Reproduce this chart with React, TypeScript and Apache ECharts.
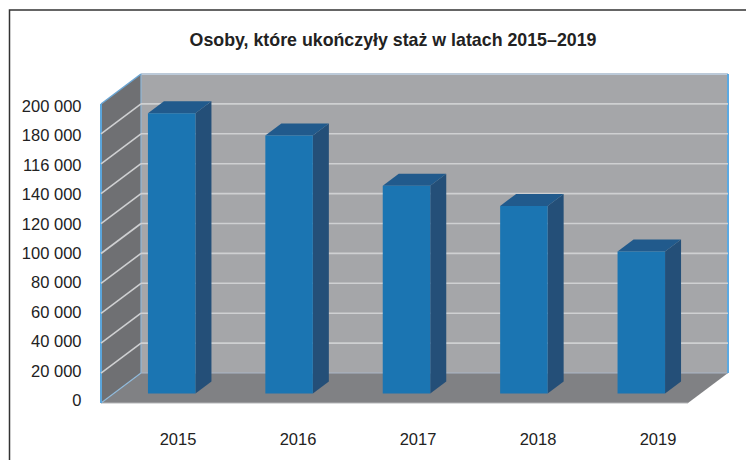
import React, { useEffect, useRef } from "react";
import * as echarts from "echarts";

const titleText = "Osoby, które ukończyły staż w latach 2015–2019";
const categories = ["2015", "2016", "2017", "2018", "2019"];
const values = [187500, 172500, 139000, 125500, 95000];
// the reference prints its axis in this order, including the 116 000 misprint
const yTickTexts = ["0", "20 000", "40 000", "60 000", "80 000", "100 000", "120 000", "140 000", "116 000", "180 000", "200 000"];
const yTickValues = [0, 20000, 40000, 60000, 80000, 100000, 120000, 140000, 160000, 180000, 200000];

const DEPTH_X = 40;
const DEPTH_Y = 30;
const BAR_OFF_X = 12;
const BAR_OFF_Y = 9.5;
const BAR_W = 47.5;
const BAR_DX = 16;
const BAR_DY = 12;

const FONT = "'Liberation Sans', Arial, sans-serif";

function wallsItem(params: any) {
  const c = params.coordSys;
  const l = c.x, r = c.x + c.width, t = c.y, b = c.y + c.height;
  const bl = l + DEPTH_X, br = r + DEPTH_X, bt = t - DEPTH_Y, bb = b - DEPTH_Y;
  const poly = (points: number[][], fill: string) => ({ type: "polygon", shape: { points }, style: { fill } });
  const seg = (x1: number, y1: number, x2: number, y2: number, stroke: string, lineWidth: number) => ({
    type: "line",
    shape: { x1, y1, x2, y2 },
    style: { stroke, lineWidth, fill: null },
  });
  return {
    type: "group",
    children: [
      poly([[bl, bt], [br, bt], [br, bb], [bl, bb]], "#a5a6a9"),
      poly([[l, t], [bl, bt], [bl, bb], [l, b]], "#6f7073"),
      poly([[l, b], [bl, bb], [br, bb], [r, b]], "#808184"),
      seg(l, b, r, b, "#b4b5b8", 1),
      seg(bl, bb, br, bb, "#a9b6c6", 1),
      seg(bl, bt, br, bt, "#bccad9", 2),
      seg(bl, bt, bl, bb, "#8fb6d6", 1.2),
      seg(l, t, bl, bt, "#6aa5d3", 1.5),
      seg(l, b, bl, bb, "#8fb9da", 1.2),
      seg(l, t, l, b, "#5ba6dc", 2),
      seg(br, bt, br, bb, "#5ba9e2", 2),
    ],
  };
}

function gridLineItem(params: any, api: any) {
  const v = api.value(1);
  if (v === 0 || v === 200000) return { type: "group", children: [] };
  const c = params.coordSys;
  const y = api.coord([0, v])[1];
  const l = c.x, r = c.x + c.width;
  const style = { stroke: "#cfd0d2", lineWidth: 1.6, fill: null };
  return {
    type: "group",
    children: [
      { type: "line", shape: { x1: l, y1: y, x2: l + DEPTH_X, y2: y - DEPTH_Y }, style },
      { type: "line", shape: { x1: l + DEPTH_X, y1: y - DEPTH_Y, x2: r + DEPTH_X, y2: y - DEPTH_Y }, style },
    ],
  };
}

function barItem(_params: any, api: any) {
  const top = api.coord([api.value(0), api.value(1)]);
  const base = api.coord([api.value(0), 0]);
  const x0 = top[0] + BAR_OFF_X - BAR_W / 2;
  const x1 = x0 + BAR_W;
  const yT = top[1] - BAR_OFF_Y;
  const yB = base[1] - BAR_OFF_Y;
  return {
    type: "group",
    children: [
      { type: "polygon", shape: { points: [[x1, yT], [x1 + BAR_DX, yT - BAR_DY], [x1 + BAR_DX, yB - BAR_DY], [x1, yB]] }, style: { fill: "#244f78" } },
      { type: "polygon", shape: { points: [[x0, yT], [x0 + BAR_DX, yT - BAR_DY], [x1 + BAR_DX, yT - BAR_DY], [x1, yT]] }, style: { fill: "#215a8c" } },
      { type: "rect", shape: { x: x0, y: yT, width: BAR_W, height: yB - yT }, style: { fill: "#1b75b2" } },
    ],
  };
}

export default function App() {
  const ref = useRef<HTMLDivElement>(null);
  useEffect(() => {
    document.body.style.margin = "0";
    document.body.style.background = "#fff";
    const chart = echarts.init(ref.current!, undefined, { renderer: "svg" });
    chart.setOption({
      animation: false,
      backgroundColor: "#ffffff",
      title: {
        text: titleText,
        left: 388,
        top: 26,
        textAlign: "center",
        textStyle: { fontFamily: FONT, fontSize: 17.8, fontWeight: "bold", color: "#222222" },
      },
      grid: [
        { left: 101, width: 587, top: 104, height: 299 },
        { left: 118, width: 600, top: 106, height: 294 },
      ],
      xAxis: [
        { gridIndex: 0, type: "category", data: categories, show: false },
        {
          gridIndex: 1,
          type: "category",
          data: categories,
          axisLine: { show: false },
          axisTick: { show: false },
          axisLabel: { margin: 30, fontFamily: FONT, fontSize: 16.5, color: "#222222" },
        },
      ],
      yAxis: [
        { gridIndex: 0, type: "value", min: 0, max: 200000, interval: 20000, show: false, splitLine: { show: false } },
        {
          gridIndex: 1,
          type: "value",
          min: 0,
          max: 200000,
          interval: 20000,
          axisLine: { show: false },
          axisTick: { show: false },
          splitLine: { show: false },
          axisLabel: {
            margin: 36.5,
            fontFamily: FONT,
            fontSize: 16.5,
            color: "#222222",
            formatter: (v: number) => yTickTexts[yTickValues.indexOf(v)],
          },
        },
      ],
      graphic: [
        { type: "polyline", shape: { points: [[9.5, 460], [9.5, 10], [746, 10]] }, style: { stroke: "#333333", lineWidth: 1.5, fill: "none" } },
      ],
      series: [
        { type: "custom", xAxisIndex: 0, yAxisIndex: 0, silent: true, clip: false, renderItem: wallsItem, data: [[0, 0]] },
        { type: "custom", xAxisIndex: 0, yAxisIndex: 0, silent: true, clip: false, renderItem: gridLineItem, data: yTickValues.map((v) => [0, v]) },
        { type: "custom", xAxisIndex: 0, yAxisIndex: 0, silent: true, clip: false, renderItem: barItem, data: values.map((v, i) => [i, v]) },
      ],
    });
    return () => chart.dispose();
  }, []);
  return <div ref={ref} style={{ width: 746, height: 460 }} />;
}
